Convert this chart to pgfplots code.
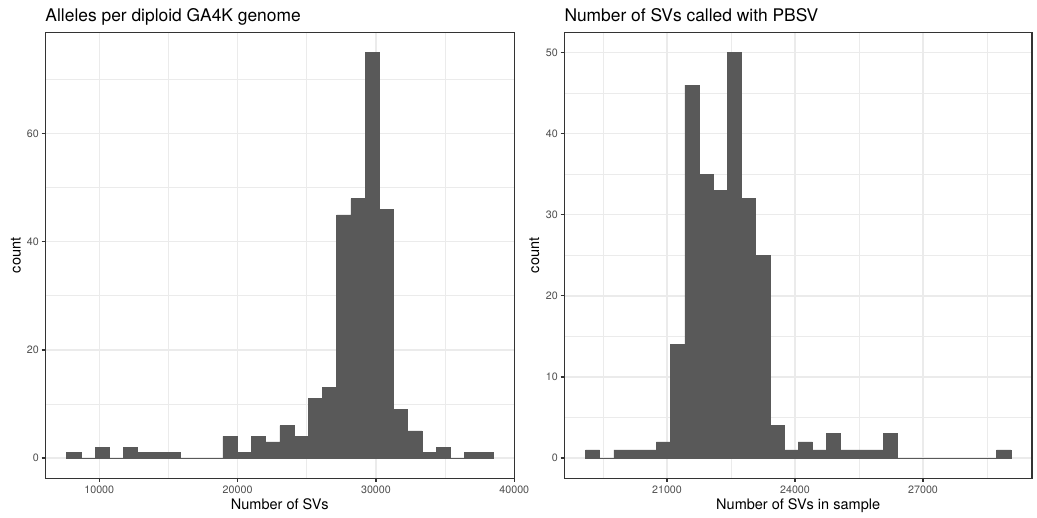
\documentclass[border=0pt]{standalone}
\usepackage{fontspec}
\setmainfont{TeX Gyre Heros}
\usepackage{pgfplots}
\pgfplotsset{compat=1.18}
\definecolor{barcol}{HTML}{595959}
\definecolor{grid92}{HTML}{EBEBEB}
\definecolor{grey20}{HTML}{333333}
\definecolor{grey30}{HTML}{4D4D4D}

\pgfplotsset{gg/.style={
  scale only axis, height=446bp, scaled ticks=false,
  axis line style={grey20, line width=1.3bp},
  tick align=outside, tick pos=left,
  major tick length=3.6bp, minor tick length=0pt,
  every tick/.style={grey20, line width=1.3bp},
  grid=both,
  major grid style={grid92, line width=1.4bp},
  minor grid style={grid92, line width=0.7bp},
  ticklabel style={font=\fontsize{10.7bp}{12bp}\selectfont, text=grey30},
  yticklabel style={anchor=east, inner sep=0pt, xshift=-2.7bp},
  xticklabel style={anchor=north, inner sep=0pt, yshift=-4.3bp},
  every axis title/.style={at={(0,1)}, anchor=base west, inner sep=0pt, yshift=10.8bp,
    font=\fontsize{17.4bp}{20bp}\selectfont},
  every axis x label/.style={at={(0.5,0)}, anchor=base, inner sep=0pt, yshift=-30.7bp,
    font=\fontsize{14.5bp}{16bp}\selectfont},
  ylabel style={anchor=base, inner sep=0pt,
    font=\fontsize{14.5bp}{16bp}\selectfont},
}}

\begin{document}
\begin{tikzpicture}
\useasboundingbox (0,0) rectangle (1037bp,518bp);

\begin{axis}[gg,
  at={(45.3bp,39.7bp)}, anchor=south west, width=469bp,
  xmin=6100, xmax=40000, ymin=-3.75, ymax=78.75,
  xtick={10000,20000,30000,40000},
  xticklabels={10000,20000,30000,40000},
  minor xtick={15000,25000,35000},
  ytick={0,20,40,60}, yticklabels={0,20,40,60},
  minor ytick={10,30,50,70},
  title={Alleles per diploid GA4K genome},
  xlabel={Number of SVs},
  ylabel={count},
  ylabel style={at={([xshift=-24.6bp]axis description cs:0,0.5)}},
]
\addplot[const plot, fill=barcol, draw=barcol, line width=0.5bp] coordinates {
(7641,1) (8668.3,0) (9695.6,2) (10722.9,0) (11750.2,2) (12777.5,1)
(13804.8,1) (14832.1,1) (15859.4,0) (16886.7,0) (17914,0) (18941.3,4)
(19968.6,1) (20995.9,4) (22023.2,3) (23050.5,6) (24077.8,4) (25105.1,11)
(26132.4,13) (27159.7,45) (28187,48) (29214.3,75) (30241.6,46) (31268.9,9)
(32296.2,5) (33323.5,1) (34350.8,2) (35378.1,0) (36405.4,1) (37432.7,1)
(38460,1)
} \closedcycle;
\end{axis}

\begin{axis}[gg,
  at={(564.3bp,39.7bp)}, anchor=south west, width=467.7bp,
  xmin=18593, xmax=29554, ymin=-2.5, ymax=52.5,
  xtick={21000,24000,27000},
  xticklabels={21000,24000,27000},
  minor xtick={19500,22500,25500,28500},
  ytick={0,10,20,30,40,50}, yticklabels={0,10,20,30,40,50},
  minor ytick={5,15,25,35,45},
  title={Number of SVs called with PBSV},
  xlabel={Number of SVs in sample},
  ylabel={count},
  ylabel style={at={([xshift=-25.3bp]axis description cs:0,0.5)}},
]
\addplot[const plot, fill=barcol, draw=barcol, line width=0.5bp] coordinates {
(19091.2,1) (19423.4,0) (19755.5,1) (20087.7,1) (20419.8,1) (20752.0,2)
(21084.1,14) (21416.3,46) (21748.4,35) (22080.6,33) (22412.7,50) (22744.9,32)
(23077.0,25) (23409.2,4) (23741.3,1) (24073.5,2) (24405.6,1) (24737.8,3)
(25069.9,1) (25402.1,1) (25734.2,1) (26066.4,3) (26398.5,0) (26730.7,0)
(27062.8,0) (27395.0,0) (27727.1,0) (28059.3,0) (28391.4,0) (28723.6,1)
(29055.7,1)
} \closedcycle;
\end{axis}
\end{tikzpicture}
\end{document}
